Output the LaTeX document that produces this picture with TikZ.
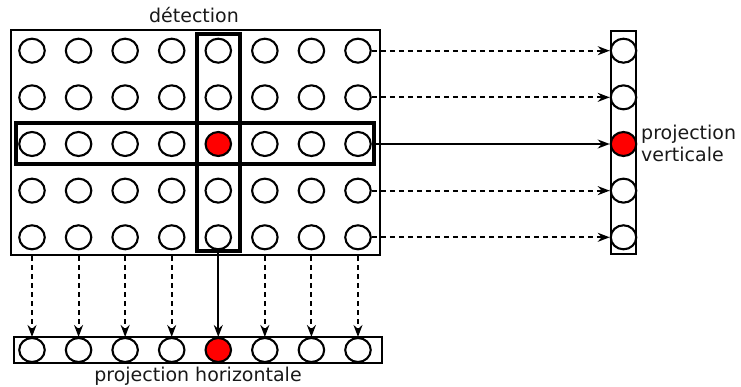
\documentclass[tikz,border=0pt]{standalone}
\usepackage{fontspec}
\setmainfont{DejaVu Sans}
\usetikzlibrary{arrows.meta,shapes.geometric}
\tikzset{
  dot/.style={ellipse,draw,line width=2.1pt,minimum width=25.5pt,minimum height=24pt,inner sep=0pt,fill=white},
  hot/.style={dot,fill=red},
  frame/.style={draw,line width=2pt,inner sep=0pt},
  selbox/.style={draw,line width=3.2pt,inner sep=0pt},
  proj/.style={line width=1.9pt,-{Stealth[length=12pt,width=9pt,inset=4pt]}},
  dproj/.style={proj,dash pattern=on 5pt off 4pt},
  lbl/.style={font=\fontsize{19}{22}\selectfont,inner sep=0pt,text=black!90}
}
\begin{document}
\begin{tikzpicture}[x=1pt,y=-1pt]
\useasboundingbox (0,0) rectangle (741,387);
% frames
\node[frame,minimum width=369pt,minimum height=225pt] (main) at (195.5,142.5) {};
\node[frame,minimum width=25pt,minimum height=223pt] (vbox) at (623.5,142.5) {};
\node[frame,minimum width=368pt,minimum height=26pt] (hbox) at (198,350) {};
% grid of detectors
\foreach \i in {1,...,8}{
  \foreach \j in {1,...,5}{
    \pgfmathsetmacro{\xx}{32+46.57*(\i-1)}
    \pgfmathsetmacro{\yy}{50.7+46.65*(\j-1)}
    \ifnum\i=5 \ifnum\j=3
      \node[hot] (c-\i-\j) at (\xx,\yy) {};
    \else
      \node[dot] (c-\i-\j) at (\xx,\yy) {};
    \fi\else
      \node[dot] (c-\i-\j) at (\xx,\yy) {};
    \fi
  }
}
% vertical projection column
\foreach \j in {1,...,5}{
  \pgfmathsetmacro{\yy}{50.7+46.65*(\j-1)}
  \ifnum\j=3
    \node[hot] (v-\j) at (623.5,\yy) {};
  \else
    \node[dot] (v-\j) at (623.5,\yy) {};
  \fi
}
% horizontal projection row
\foreach \i in {1,...,8}{
  \pgfmathsetmacro{\xx}{32+46.57*(\i-1)}
  \ifnum\i=5
    \node[hot] (h-\i) at (\xx,350) {};
  \else
    \node[dot] (h-\i) at (\xx,350) {};
  \fi
}
% selection boxes
\node[selbox,minimum width=43pt,minimum height=217pt] (colsel) at (218.5,142.5) {};
\node[selbox,minimum width=358pt,minimum height=41pt] (rowsel) at (195,143.5) {};
% projections
\foreach \j in {1,2,4,5}{
  \draw[dproj] (c-8-\j.east) -- (v-\j.west);
}
\draw[proj] (rowsel.east |- v-3.west) -- (v-3.west);
\foreach \i in {1,2,3,4,6,7,8}{
  \draw[dproj] (c-\i-5 |- main.south) -- (h-\i.north);
}
\draw[proj] (colsel.south -| h-5.north) -- (h-5.north);
% labels
\node[lbl,anchor=base] (tdet) at (194,23) {détection};
\node[lbl,anchor=base] (thor) at (198,381) {projection horizontale};
\node[lbl,anchor=base west] (tv1) at (641,140) {projection};
\node[lbl,anchor=base west] (tv2) at (641,162) {verticale};
\end{tikzpicture}
\end{document}
